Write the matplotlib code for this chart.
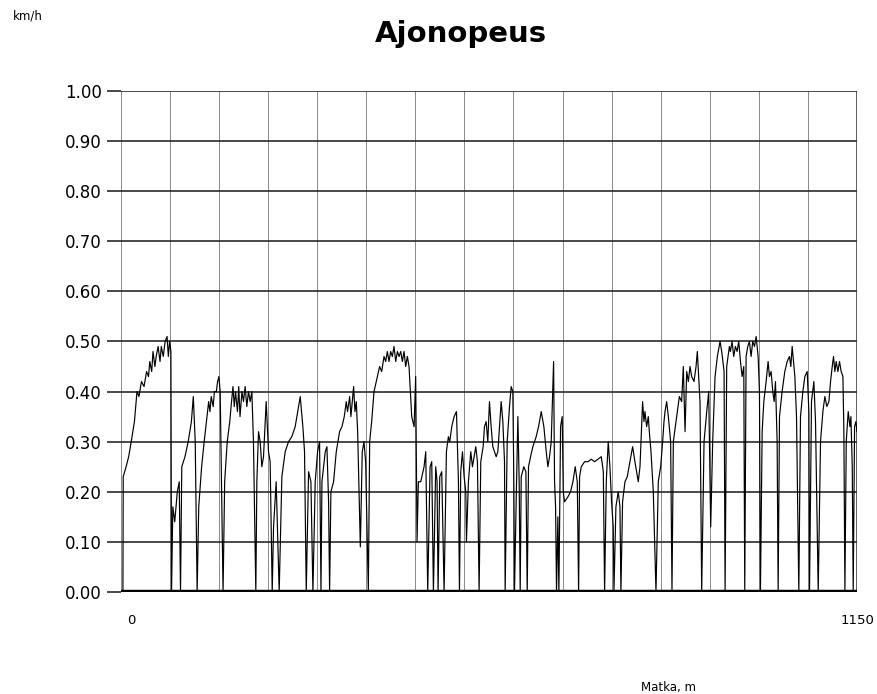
import matplotlib
matplotlib.use("Agg")
import matplotlib.pyplot as plt
import numpy as np

plt.rcParams['font.family'] = ['DejaVu Sans']

# speed trace along the route: distance (m) and speed (km/h)
matka = [
    3, 3.5, 8, 12, 16, 21, 25, 28, 32, 36, 40, 43, 45, 48, 50, 53, 55, 58, 61, 63,
    66, 69, 72, 74, 76, 78, 79, 81, 84, 88, 91, 93, 95, 100, 105, 110, 113, 116, 119, 121.5,
    126, 130, 133.5, 137, 139, 141, 144, 146, 149, 151, 153, 155, 157, 159.5, 162, 166, 170, 172,
    175, 177, 179, 182, 184, 186, 189, 191.4, 194, 196.6, 199.2, 201.8, 204.5, 207, 210.7, 212.3,
    214.9, 217.5, 220.1, 222.7, 226.9, 230.5, 233.1, 236.3, 238.4, 242.5, 247.2, 251.4, 256.6, 261.8,
    267, 272.2, 277.5, 280.1, 284.2, 286.8, 289.5, 293.1, 296.8, 299.9, 303.5, 307.2, 310.3, 312.5,
    314, 319.2, 321.8, 324.4, 326, 328, 332.2, 336.4, 341.6, 345.3, 348.9, 352, 354, 357.3,
    359.3, 361.4, 363.5, 365.6, 367.7, 369.8, 374, 377, 379.7, 382.3, 386.5, 388.6, 391.7, 395.4,
    400.6, 404.2, 407.4, 411, 413.6, 416.2, 418.8, 421.4, 424, 426.6, 429.3, 431.9, 434.5, 437.1,
    439.7, 442.3, 444.9, 447.5, 450.1, 454.3, 458, 460.5, 462.6, 464.7, 468.4, 473.6, 476.2, 479.3,
    483, 485.6, 488.2, 491.8, 493.9, 495.5, 498.1, 501.2, 504.9, 508.5, 511.6, 513.7, 516.9, 520.5,
    524.2, 527.3, 528.9, 530.9, 533.6, 536.2, 538.8, 539.8, 542.9, 546.6, 549.2, 554.4, 557, 559.6,
    562.2, 565.9, 568, 570.6, 573.2, 575.8, 578.4, 581, 583.6, 586.3, 588.9, 591.5, 594.1, 596.7,
    599.3, 600.3, 603.5, 607.1, 609.7, 612.3, 613.9, 614.9, 617.5, 620.2, 622.2, 623.8, 625.4, 629.5,
    632.7, 634.8, 636.8, 640, 643.6, 648.8, 652.5, 656.7, 660.8, 664.5, 667.1, 669.7, 672.3, 676,
    677.5, 679.1, 680.6, 682.7, 684.3, 686.9, 689.5, 691.1, 693.2, 698.4, 702.5, 706.2, 709.8, 713,
    715.1, 716.6, 719.2, 724.5, 729.7, 734.9, 740.1, 745.3, 750.5, 753.7, 755.7, 758.3, 761.4, 764,
    766.6, 769.2, 770.3, 773.4, 777, 779.7, 781.2, 783.8, 787.5, 791.1, 795.3, 799.5, 803.1, 808.3,
    811, 815.1, 817.2, 818.8, 821.4, 824, 825.6, 828.2, 831.8, 836, 839.6, 843.3, 846.4, 848.5,
    850.1, 852.7, 855.3, 858.9, 861, 863.1, 868.3, 872.5, 876.1, 878.7, 881.4, 884, 886.6, 889.2,
    891.8, 895.4, 898.6, 900.6, 902.7, 904.8, 907.4, 911.1, 915.3, 918.4, 921.5, 924.6, 928.3, 931.9,
    936.1, 938.7, 942.4, 944, 946.5, 950.7, 952.3, 954.9, 957.5, 960.1, 962.7, 965.3, 968, 970.6,
    973.2, 974.7, 976.8, 979.4, 982, 984.6, 987.2, 989.9, 992.5, 995.6, 997.7, 999.2, 1001.9, 1004.5,
    1008.1, 1011.2, 1013.3, 1015.9, 1018.5, 1020.6, 1022.7, 1025.3, 1026.9, 1029, 1033.1, 1037.3,
    1041, 1044.6, 1046.7, 1048.8, 1050.9, 1053, 1055.6, 1059.2, 1061.8, 1065.5, 1068.6, 1072.3,
    1074.9, 1075.9, 1079, 1082.7, 1085.3, 1089.5, 1093.1, 1096.8, 1099.9, 1103, 1106.2, 1108.8,
    1111.4, 1113.4, 1115.5, 1117.6, 1120.2, 1122.8, 1125.4, 1128.1, 1129.6, 1131.2, 1133.3, 1136.4,
    1139, 1140.6, 1142.7, 1144.2, 1146.3, 1148.4, 1150,
]
nopeus = [
    0.0, 0.23, 0.25, 0.27, 0.30, 0.34, 0.40, 0.39, 0.42, 0.41, 0.44, 0.43, 0.46, 0.44, 0.48, 0.45, 0.47, 0.49, 0.46, 0.49,
    0.47, 0.50, 0.51, 0.47, 0.50, 0.48, 0.0, 0.17, 0.14, 0.20, 0.22, 0.0, 0.25, 0.27, 0.30, 0.34, 0.39, 0.30, 0.0, 0.17,
    0.25, 0.30, 0.34, 0.38, 0.36, 0.39, 0.37, 0.40, 0.40, 0.42, 0.43, 0.40, 0.22, 0.0, 0.22, 0.30, 0.34, 0.37,
    0.41, 0.37, 0.40, 0.36, 0.41, 0.35, 0.40, 0.38, 0.41, 0.37, 0.40, 0.38, 0.40, 0.30, 0.0, 0.22,
    0.32, 0.30, 0.25, 0.27, 0.38, 0.28, 0.26, 0.0, 0.13, 0.22, 0.0, 0.23, 0.28, 0.30,
    0.31, 0.33, 0.37, 0.39, 0.33, 0.28, 0.0, 0.24, 0.22, 0.0, 0.22, 0.28, 0.30, 0.0,
    0.22, 0.28, 0.29, 0.18, 0.0, 0.20, 0.22, 0.28, 0.32, 0.33, 0.35, 0.38, 0.36, 0.39,
    0.35, 0.38, 0.41, 0.36, 0.38, 0.32, 0.09, 0.28, 0.30, 0.26, 0.0, 0.30, 0.34, 0.40,
    0.43, 0.45, 0.44, 0.47, 0.46, 0.48, 0.46, 0.48, 0.47, 0.49, 0.46, 0.48, 0.47, 0.48,
    0.46, 0.48, 0.45, 0.47, 0.45, 0.35, 0.33, 0.43, 0.10, 0.22, 0.22, 0.25, 0.28, 0.0,
    0.25, 0.26, 0.0, 0.25, 0.22, 0.0, 0.23, 0.24, 0.0, 0.28, 0.31, 0.30, 0.33, 0.35,
    0.36, 0.22, 0.0, 0.24, 0.28, 0.23, 0.20, 0.10, 0.22, 0.28, 0.25, 0.29, 0.26, 0.0,
    0.26, 0.29, 0.33, 0.34, 0.30, 0.38, 0.33, 0.29, 0.28, 0.27, 0.28, 0.33, 0.38, 0.34,
    0.26, 0.0, 0.30, 0.37, 0.41, 0.40, 0.22, 0.0, 0.18, 0.35, 0.22, 0.0, 0.23, 0.25,
    0.24, 0.0, 0.25, 0.27, 0.29, 0.31, 0.33, 0.36, 0.33, 0.28, 0.25, 0.27, 0.30, 0.46,
    0.22, 0.17, 0.0, 0.15, 0.0, 0.33, 0.35, 0.20, 0.18, 0.19, 0.20, 0.22, 0.25, 0.22,
    0.0, 0.23, 0.25, 0.26, 0.26, 0.265, 0.26, 0.265, 0.27, 0.24, 0.0, 0.22, 0.30, 0.25,
    0.18, 0.13, 0.0, 0.17, 0.20, 0.17, 0.0, 0.18, 0.22, 0.23, 0.26, 0.29, 0.26, 0.22,
    0.25, 0.38, 0.34, 0.36, 0.33, 0.35, 0.32, 0.28, 0.20, 0.0, 0.22, 0.25, 0.30, 0.34,
    0.36, 0.38, 0.35, 0.30, 0.0, 0.30, 0.35, 0.39, 0.38, 0.45, 0.32, 0.44, 0.42, 0.45,
    0.43, 0.42, 0.45, 0.48, 0.43, 0.38, 0.0, 0.30, 0.36, 0.40, 0.13, 0.30, 0.43, 0.47,
    0.50, 0.48, 0.44, 0.0, 0.45, 0.49, 0.48, 0.50, 0.47, 0.49, 0.48, 0.50, 0.46, 0.43,
    0.45, 0.0, 0.47, 0.49, 0.50, 0.47, 0.50, 0.49, 0.51, 0.47, 0.40, 0.0, 0.32, 0.38,
    0.42, 0.46, 0.43, 0.44, 0.40, 0.38, 0.42, 0.30, 0.0, 0.35, 0.40, 0.44,
    0.46, 0.47, 0.45, 0.49, 0.46, 0.43, 0.35, 0.0, 0.35, 0.40, 0.43, 0.44,
    0.36, 0.0, 0.38, 0.42, 0.34, 0.0, 0.30, 0.36, 0.39, 0.37, 0.38, 0.42,
    0.45, 0.47, 0.44, 0.46, 0.44, 0.46, 0.44, 0.43, 0.32, 0.0, 0.30, 0.36,
    0.33, 0.35, 0.25, 0.0, 0.33, 0.34, 0.32,
]

y_ticks = [0.0, 0.1, 0.2, 0.3, 0.4, 0.5, 0.6, 0.7, 0.8, 0.9, 1.0]

fig = plt.figure(figsize=(8.78, 6.94), dpi=100)
ax = fig.add_axes([0.1378, 0.147, 0.8382, 0.722])

ax.set_xlim(0, 1150)
ax.set_ylim(0, 1.0)

# grid: light vertical columns, dark horizontal rows, darker right edge
for xv in np.linspace(0, 1150, 16)[:-1]:
    ax.axvline(xv, color='#8a8a8a', lw=0.7, zorder=1)
ax.axvline(1150, color='#333333', lw=1.1, zorder=1)
for yv in y_ticks:
    ax.axhline(yv, color='#2a2a2a', lw=1.2, zorder=1)

ax.plot(matka, nopeus, color='black', lw=0.85, zorder=3)
ax.axhline(0, color='black', lw=3.2, zorder=4)

for s in ax.spines.values():
    s.set_visible(False)
ax.set_xticks([])
ax.set_yticks(y_ticks)
ax.set_yticklabels(['%.2f' % v for v in y_ticks], fontsize=12)
ax.tick_params(axis='y', length=10, width=1.2, color='#2a2a2a', pad=4)

fig.text(131 / 878, 1 - 620 / 694, '0', ha='center', va='center', fontsize=9.5)
fig.text(858 / 878, 1 - 620 / 694, '1150', ha='center', va='center', fontsize=9.5)
fig.text(669 / 878, 1 - 687 / 694, 'Matka, m', ha='center', va='center', fontsize=8.5)
fig.text(28 / 878, 1 - 16 / 694, 'km/h', ha='center', va='center', fontsize=8.5)
fig.text(461 / 878, 1 - 34 / 694, 'Ajonopeus', ha='center', va='center',
         fontsize=21, fontweight='bold')

fig.savefig('out.png', dpi=100)
